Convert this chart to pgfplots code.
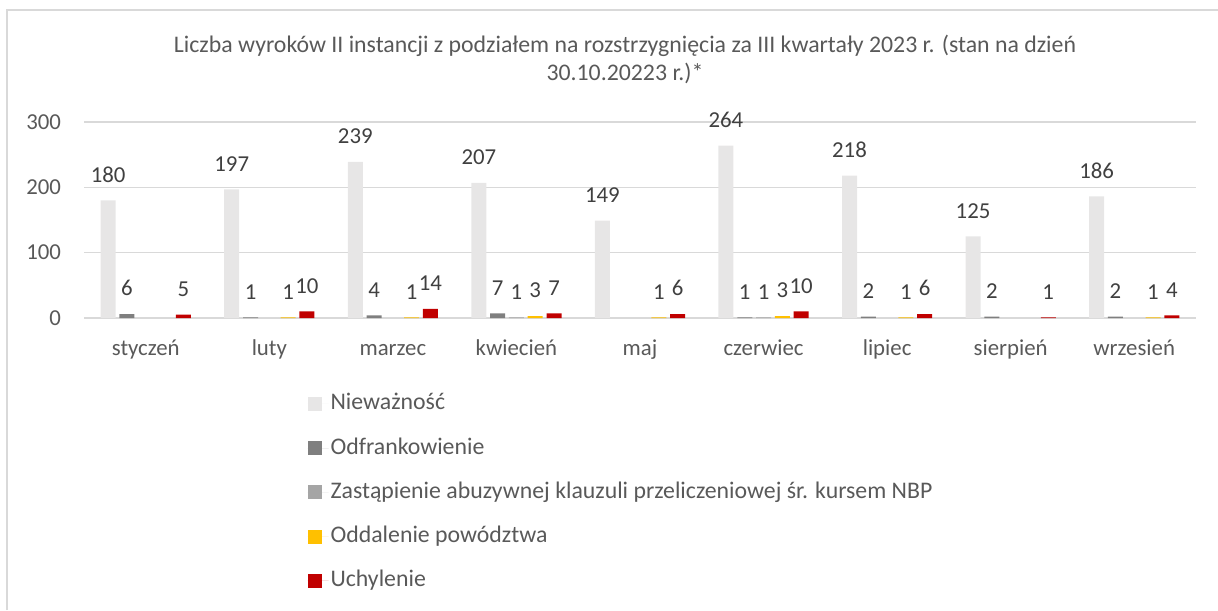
\documentclass[border=0pt]{standalone}
\usepackage{pgfplots}
\pgfplotsset{compat=1.18}
\usepackage{fontspec}
\setmainfont{Carlito}
\definecolor{cNiew}{HTML}{E7E6E6}
\definecolor{cOdfr}{HTML}{7F7F7F}
\definecolor{cZast}{HTML}{A5A5A5}
\definecolor{cOdda}{HTML}{FFC000}
\definecolor{cUchy}{HTML}{C00000}
\definecolor{gridc}{HTML}{D9D9D9}
\definecolor{txt}{HTML}{595959}
\definecolor{lab}{HTML}{404040}
\begin{document}
\begin{tikzpicture}
\begin{axis}[
  at={(42pt,146pt)}, anchor=south west,
  scale only axis, width=556pt, height=98pt,
  xmin=-0.5, xmax=8.5, ymin=0, ymax=300,
  ytick={0,100,200,300},
  xtick={0,...,8},
  xticklabels={styczeń,luty,marzec,kwiecień,maj,czerwiec,lipiec,sierpień,wrzesień},
  ybar=1.9pt, bar width=7.5pt,
  ymajorgrids, grid style={draw=gridc, line width=0.75pt},
  axis line style={draw=none},
  major tick length=0pt,
  tick label style={font=\fontsize{11.4}{13}\selectfont, text=txt},
  xticklabel style={text height=8pt, text depth=2.5pt, yshift=-7.2pt},
  yticklabel style={xshift=-8pt},
  /pgf/number format/assume math mode=true,
  nodes near coords,
  nodes near coords style={font=\fontsize{11.4}{13}\selectfont, text=lab, anchor=south, yshift=5.5pt},
  legend style={at={(0.2007,-0.375)}, anchor=north west, draw=none, fill=none, inner sep=0pt,
    font=\fontsize{11.9}{13}\selectfont, text=txt, row sep=10.1pt,
    nodes={inner sep=1pt, text height=8pt, text depth=2pt}},
  legend cell align=left,
  legend image code/.code={\fill[#1, draw=none] (0pt,-3.5pt) rectangle (7pt,3.5pt); \path (0pt,0pt) -- (10.5pt,0pt);},
]
\addplot[fill=cNiew, draw=none] coordinates {(0,180) (1,197) (2,239) (3,207) (4,149) (5,264) (6,218) (7,125) (8,186)};
\addplot[fill=cOdfr, draw=none] coordinates {(0,6) (1,1) (2,4) (3,7) (5,1) (6,2) (7,2) (8,2)};
\addplot[fill=cZast, draw=none] coordinates {(3,1) (5,1)};
\addplot[fill=cOdda, draw=none] coordinates {(1,1) (2,1) (3,3) (4,1) (5,3) (6,1) (8,1)};
\addplot[fill=cUchy, draw=none] coordinates {(0,5) (1,10) (2,14) (3,7) (4,6) (5,10) (6,6) (7,1) (8,4)};
\legend{Nieważność, Odfrankowienie, Zastąpienie abuzywnej klauzuli przeliczeniowej śr. kursem NBP, Oddalenie powództwa, Uchylenie}
\end{axis}
\node[align=center, font=\fontsize{11.9}{14}\selectfont, text=txt] at (312.5pt,275.5pt)
  {Liczba wyroków II instancji z podziałem na rozstrzygnięcia za III kwartały 2023 r. (stan na dzień\\30.10.20223 r.)*};
\draw[color=gridc, line width=0.75pt] (3.5pt,0pt) -- (3.5pt,300pt) -- (609pt,300pt);
\pgfresetboundingbox
\path (0pt,0pt) rectangle (609pt,305pt);
\end{tikzpicture}
\end{document}
